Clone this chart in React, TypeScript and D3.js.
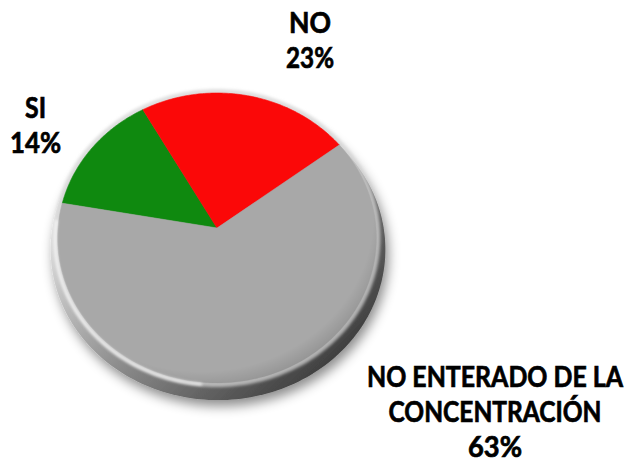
import * as d3 from 'd3'

const categories = ['SI', 'NO', 'NO ENTERADO DE LA CONCENTRACIÓN']
const percents = [14, 23, 63]
const colors = ['#0f890f', '#fb0808', '#a8a8a8']
// how each category name is broken over lines in its label
const labelLines = [['SI'], ['NO'], ['NO ENTERADO DE LA', 'CONCENTRACIÓN']]

const W = 629
const H = 463

// label anchors (first baseline, centre x) and measured line widths
const labelPos = [
  { x: 35.5, y: 117.5 },
  { x: 310, y: 32.7 },
  { x: 495, y: 387 },
]
const lineWidths = [
  [21, 51],
  [42, 48],
  [256, 213, 54],
]
const lineStep = 35

// tilted pie: perspective factor and the face / rim ellipses
const k = 0.069
const face = { cx: 217, cy: 228, rx: 159, rz: 144.3 }
const rim = { cx: 218, cy: 239, rx: 167, rz: 150 }
const startDeg = -80

type Geo = typeof face

const project = (a: number, r: number, g: Geo): [number, number] => {
  const x = r * Math.sin(a)
  const z = r * Math.cos(a)
  const w = 1 + k * z
  return [g.cx + (g.rx * x) / w, g.cy - (g.rz * z) / w]
}

const arcPoints = (a0: number, a1: number, g: Geo, n = 90) =>
  d3.range(n + 1).map((i) => project(a0 + ((a1 - a0) * i) / n, 1, g))

const closed = d3.line().curve(d3.curveLinearClosed)
const open = d3.line()

export default function App() {
  const start = (startDeg * Math.PI) / 180
  const arcs = d3
    .pie<number>()
    .sort(null)
    .startAngle(start)
    .endAngle(start + 2 * Math.PI)(percents)

  const apex = project(0, 0, face)
  const rimPath = closed(arcPoints(0, 2 * Math.PI, rim, 240)) as string
  const facePath = closed(arcPoints(0, 2 * Math.PI, face, 240)) as string
  const highlight = open(
    arcPoints((-86 * Math.PI) / 180, (-175 * Math.PI) / 180, { ...face, rx: face.rx + 2.5, cy: face.cy + 2 }, 60)
  ) as string

  return (
    <svg
      width={W}
      height={H}
      viewBox={`0 0 ${W} ${H}`}
      style={{ position: 'absolute', left: 0, top: 0, background: '#fff' }}
    >
      <defs>
        <filter id="shadow" x="-20%" y="-20%" width="150%" height="150%">
          <feDropShadow dx="3" dy="6" stdDeviation="6" floodColor="#000" floodOpacity="0.45" />
        </filter>
        <linearGradient id="rimGrad" x1="0.05" y1="0.35" x2="0.75" y2="1">
          <stop offset="0" stopColor="#e6e6e6" />
          <stop offset="0.5" stopColor="#8c8c8c" />
          <stop offset="1" stopColor="#3c3c3c" />
        </linearGradient>
        <radialGradient id="faceShade" cx="0.45" cy="0.42" r="0.6">
          <stop offset="0.9" stopColor="#000" stopOpacity="0" />
          <stop offset="1" stopColor="#000" stopOpacity="0.12" />
        </radialGradient>
        <filter id="soft" x="-10%" y="-10%" width="120%" height="120%">
          <feGaussianBlur stdDeviation="1.5" />
        </filter>
      </defs>

      <path d={rimPath} fill="url(#rimGrad)" filter="url(#shadow)" />
      {/* bevel light band just outside the face */}
      <path d={facePath} fill="none" stroke="#d4d4d4" strokeWidth={8} strokeOpacity={0.75} filter="url(#soft)" />

      <g>
        {arcs.map((d, i) => {
          const pts = [apex, ...arcPoints(d.startAngle, d.endAngle, face)]
          return (
            <path
              key={categories[i]}
              d={closed(pts) as string}
              fill={colors[i]}
              stroke={colors[i]}
              strokeWidth={0.6}
            />
          )
        })}
      </g>
      <path d={facePath} fill="url(#faceShade)" />
      <path d={highlight} fill="none" stroke="#fff" strokeWidth={2.2} strokeOpacity={0.95} filter="url(#soft)" />

      <g
        fontFamily="Lato, 'Open Sans', sans-serif"
        fontWeight="bold"
        fontSize={25}
        fill="#000"
        stroke="#000"
        strokeWidth={0.6}
        textAnchor="middle"
      >
        {labelLines.map((lines, i) =>
          [...lines, `${percents[i]}%`].map((t, j) => (
            <text
              key={`${i}-${j}`}
              transform={`translate(${labelPos[i].x},${labelPos[i].y + j * lineStep}) scale(1,1.16)`}
              textLength={lineWidths[i][j]}
              lengthAdjust="spacingAndGlyphs"
            >
              {t}
            </text>
          ))
        )}
      </g>
    </svg>
  )
}
